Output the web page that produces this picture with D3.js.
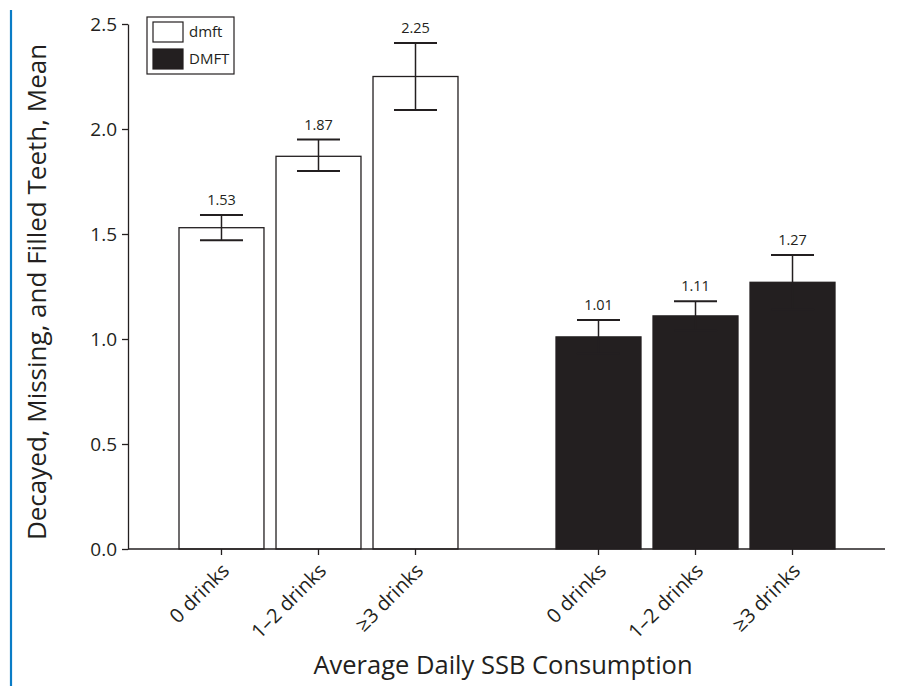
<!DOCTYPE html>
<html>
<head>
<meta charset="utf-8">
<script src="https://cdn.jsdelivr.net/npm/d3@7"></script>
<style>
  html, body { margin: 0; padding: 0; background: #fff; }
  svg { display: block; font-family: "Open Sans", "Noto Sans", sans-serif; }
</style>
</head>
<body>
<svg id="chart" width="920" height="686"></svg>
<script>
// ---- data ----
const groups = ["dmft", "DMFT"];
const categories = ["0 drinks", "1\u20132 drinks", "\u22653 drinks"];
const dmftMean = [1.53, 1.87, 2.25];
const dmftLow  = [1.47, 1.80, 2.09];
const dmftHigh = [1.59, 1.95, 2.41];
const DMFTMean = [1.01, 1.11, 1.27];
const DMFTLow  = [0.93, 1.04, 1.14];
const DMFTHigh = [1.09, 1.18, 1.40];
const yTicks = [0, 0.5, 1.0, 1.5, 2.0, 2.5];
const yTitle = "Decayed, Missing, and Filled Teeth, Mean";
const xTitle = "Average Daily SSB Consumption";

const series = [
  { key: "dmft", fill: "#ffffff", mean: dmftMean, low: dmftLow, high: dmftHigh },
  { key: "DMFT", fill: "#231f20", mean: DMFTMean, low: DMFTLow, high: DMFTHigh }
];

// ---- layout ----
const svg = d3.select("#chart");
const axisLeftX = 128, axisRightX = 885;
const y = d3.scaleLinear().domain([0, 2.5]).range([549, 24]);
const outer = d3.scaleBand().domain(groups).range([179, 835]).paddingInner(0.26).paddingOuter(0);
const inner = d3.scaleBand().domain(categories).range([0, outer.bandwidth()]).paddingInner(0.124).paddingOuter(0);

const ink = "#231f20";

// left blue rule
svg.append("line").attr("x1", 11).attr("x2", 11).attr("y1", 10).attr("y2", 686)
  .attr("stroke", "#0a7cc6").attr("stroke-width", 2.2);

// y axis
const yAxis = d3.axisLeft(y).tickValues(yTicks).tickFormat(d3.format(".1f")).tickSize(6).tickSizeOuter(0);
const gy = svg.append("g").attr("transform", `translate(${axisLeftX},0)`).call(yAxis);
gy.select(".domain").attr("stroke", ink).attr("stroke-width", 1.3);
gy.selectAll(".tick line").attr("stroke", ink).attr("stroke-width", 1.3);
gy.selectAll(".tick text").attr("font-size", 19).attr("fill", ink).attr("font-family", "Open Sans").attr("x", -11);

// bars and error bars
series.forEach(s => {
  const g = svg.append("g").attr("transform", `translate(${outer(s.key)},0)`);
  const rows = categories.map((c, i) => ({ c, m: s.mean[i], lo: s.low[i], hi: s.high[i] }));
  const cx = d => inner(d.c) + inner.bandwidth() / 2;
  const capHalf = 21.5;

  g.selectAll("rect").data(rows).join("rect")
    .attr("x", d => inner(d.c)).attr("width", inner.bandwidth())
    .attr("y", d => y(d.m)).attr("height", d => y(0) - y(d.m))
    .attr("fill", s.fill).attr("stroke", ink).attr("stroke-width", 1.3);

  g.selectAll("line.err").data(rows).join("line").attr("class", "err")
    .attr("x1", cx).attr("x2", cx).attr("y1", d => y(d.lo)).attr("y2", d => y(d.hi))
    .attr("stroke", ink).attr("stroke-width", 1.5);
  g.selectAll("line.capH").data(rows).join("line").attr("class", "capH")
    .attr("x1", d => cx(d) - capHalf).attr("x2", d => cx(d) + capHalf)
    .attr("y1", d => y(d.hi)).attr("y2", d => y(d.hi))
    .attr("stroke", ink).attr("stroke-width", 2);
  g.selectAll("line.capL").data(rows).join("line").attr("class", "capL")
    .attr("x1", d => cx(d) - capHalf).attr("x2", d => cx(d) + capHalf)
    .attr("y1", d => y(d.lo)).attr("y2", d => y(d.lo))
    .attr("stroke", ink).attr("stroke-width", 2);

  g.selectAll("text.val").data(rows).join("text").attr("class", "val")
    .attr("x", cx).attr("y", d => y(d.hi) - 10)
    .attr("text-anchor", "middle").attr("font-size", 14.5).attr("fill", ink)
    .text(d => d.m.toFixed(2));

  // x ticks per group
  const xAxis = d3.axisBottom(inner).tickSize(6).tickSizeOuter(0);
  const gx = g.append("g").attr("transform", `translate(0,${y(0)})`).call(xAxis);
  gx.select(".domain").remove();
  gx.selectAll(".tick line").attr("stroke", ink).attr("stroke-width", 1.3);
  gx.selectAll(".tick text")
    .attr("font-size", 20).attr("fill", ink).attr("font-family", "Open Sans")
    .attr("text-anchor", "end").attr("dy", null).attr("y", null)
    .attr("transform", "translate(9,23) rotate(-45)");
});

// x baseline
svg.append("line").attr("x1", axisLeftX).attr("x2", axisRightX)
  .attr("y1", y(0)).attr("y2", y(0)).attr("stroke", ink).attr("stroke-width", 1.3);

// titles
svg.append("text").attr("x", 503).attr("y", 674).attr("text-anchor", "middle")
  .attr("font-size", 25.5).attr("fill", ink).text(xTitle);
svg.append("text").attr("transform", `translate(46,292) rotate(-90)`)
  .attr("text-anchor", "middle").attr("font-size", 26).attr("fill", ink).text(yTitle);

// legend
const lg = svg.append("g");
lg.append("rect").attr("x", 147).attr("y", 17).attr("width", 87).attr("height", 57)
  .attr("fill", "#fff").attr("stroke", ink).attr("stroke-width", 1.2);
series.forEach((s, i) => {
  lg.append("rect").attr("x", 153).attr("y", 22 + i * 27).attr("width", 30).attr("height", 20)
    .attr("fill", s.fill).attr("stroke", ink).attr("stroke-width", 1.2);
  lg.append("text").attr("x", 189).attr("y", 37 + i * 27).attr("font-size", 15).attr("fill", ink).text(s.key);
});
</script>
</body>
</html>
